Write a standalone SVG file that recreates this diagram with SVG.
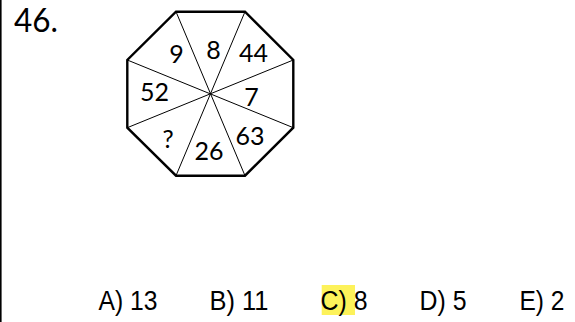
<svg xmlns="http://www.w3.org/2000/svg" width="575" height="322" viewBox="0 0 575 322">
<style>
.num{font-family:Lato,"Open Sans",sans-serif;font-size:25px;fill:#000;text-anchor:middle}
.ans{font-family:"Liberation Sans",Arial,sans-serif;font-size:27px;fill:#000}
.spoke{stroke:#000;stroke-width:1;fill:none}
</style>
<rect width="575" height="322" fill="#fff"/>
<line x1="0.8" y1="0" x2="0.8" y2="322" stroke="#000" stroke-width="1.6"/>
<text x="14" y="32" font-family="Lato, Open Sans, sans-serif" font-size="32" fill="#000" textLength="44" lengthAdjust="spacingAndGlyphs">46.</text>
<g id="octagon">
<polygon points="176,11.7 245,11.7 293.3,60 293.3,127.7 245,175.7 176,175.7 127.3,127.7 127.3,60" fill="#fff" stroke="#000" stroke-width="2.4" stroke-linejoin="miter"/>
</g>
<g id="spokes">
<line class="spoke" x1="176" y1="11.7" x2="245" y2="175.7"/>
<line class="spoke" x1="245" y1="11.7" x2="176" y2="175.7"/>
<line class="spoke" x1="293.3" y1="60" x2="127.3" y2="127.7"/>
<line class="spoke" x1="293.3" y1="127.7" x2="127.3" y2="60"/>
</g>
<g id="numbers">
<text class="num" x="176.5" y="62.5">9</text>
<text class="num" x="213.5" y="58.5">8</text>
<text class="num" x="253.5" y="61.5">44</text>
<text class="num" x="154.5" y="101">52</text>
<text class="num" x="251.5" y="106">7</text>
<text class="num" x="168" y="147.5">?</text>
<text class="num" x="209" y="159.5">26</text>
<text class="num" x="250" y="145">63</text>
</g>
<g id="answers">
<rect x="321.7" y="285" width="33.3" height="30" fill="#FDF25A"/>
<text class="ans" x="98.5" y="310" textLength="59" lengthAdjust="spacingAndGlyphs">A) 13</text>
<text class="ans" x="209.5" y="310" textLength="59" lengthAdjust="spacingAndGlyphs">B) 11</text>
<text class="ans" x="320.5" y="310" textLength="47" lengthAdjust="spacingAndGlyphs">C) 8</text>
<text class="ans" x="419.5" y="310" textLength="47" lengthAdjust="spacingAndGlyphs">D) 5</text>
<text class="ans" x="519.5" y="310" textLength="45" lengthAdjust="spacingAndGlyphs">E) 2</text>
</g>
</svg>
